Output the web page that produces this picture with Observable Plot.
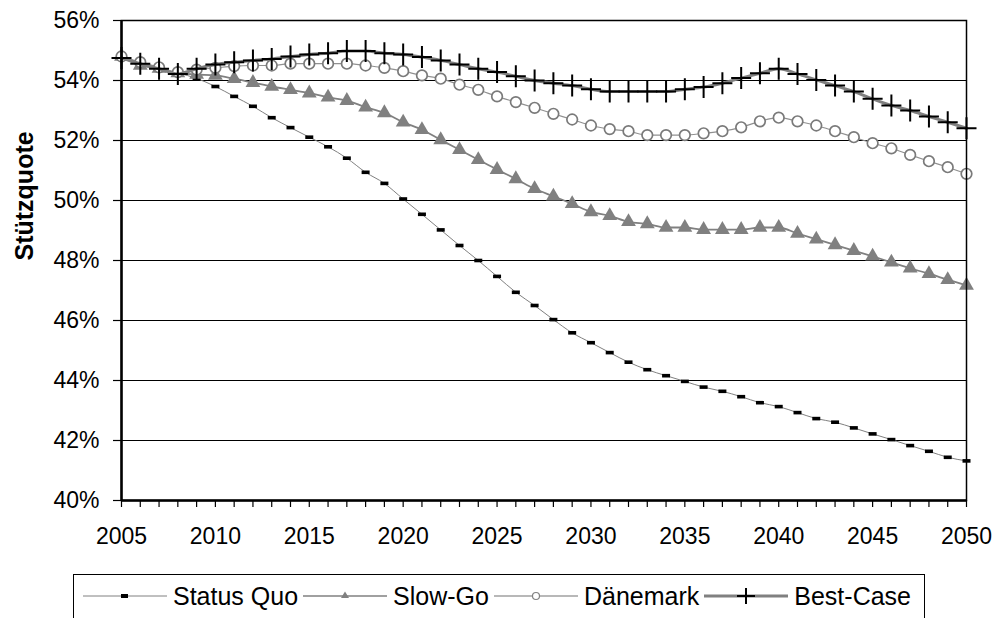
<!DOCTYPE html>
<html>
<head>
<meta charset="utf-8">
<script src="https://cdn.jsdelivr.net/npm/d3@7"></script>
<script src="https://cdn.jsdelivr.net/npm/@observablehq/plot@0.6"></script>
<style>
  body { margin: 0; background: white; font-family: "Liberation Sans", Arial, sans-serif; }
  #chart { position: relative; width: 1004px; height: 618px; overflow: hidden; }
  .legend {
    position: absolute; left: 73px; top: 574px; width: 852px; height: 60px;
    border: 1px solid black; box-sizing: border-box; display: flex; align-items: flex-start;
    padding-left: 8px; padding-top: 6px; font-size: 25px; color: black;
  }
  .legend .item { display: flex; align-items: center; margin-right: 4px; }
  .legend svg { margin-right: 5px; }
</style>
</head>
<body>
<div id="chart"></div>
<script>
const years = d3.range(2005, 2051);
const yearLabels = [2005, 2010, 2015, 2020, 2025, 2030, 2035, 2040, 2045, 2050];
const yTicks = [40, 42, 44, 46, 48, 50, 52, 54, 56];

const statusQuo = [54.75, 54.55, 54.4, 54.25, 54.07, 53.8, 53.47, 53.14, 52.76, 52.43,
  52.11, 51.79, 51.41, 50.94, 50.57, 50.05, 49.54, 49.02, 48.5, 48.0,
  47.47, 46.94, 46.5, 46.03, 45.59, 45.26, 44.93, 44.61, 44.36, 44.16,
  43.97, 43.78, 43.64, 43.46, 43.26, 43.13, 42.93, 42.73, 42.61, 42.42,
  42.22, 42.03, 41.83, 41.64, 41.44, 41.32];
const slowGo = [54.8, 54.5, 54.4, 54.25, 54.2, 54.17, 54.06, 53.93, 53.8, 53.69,
  53.58, 53.44, 53.33, 53.11, 52.92, 52.61, 52.36, 52.02, 51.69, 51.36,
  51.03, 50.72, 50.39, 50.14, 49.89, 49.62, 49.49, 49.29, 49.22, 49.1,
  49.1, 49.03, 49.03, 49.03, 49.1, 49.1, 48.9, 48.71, 48.52, 48.33,
  48.14, 47.94, 47.74, 47.56, 47.36, 47.17];
const daenemark = [54.8, 54.61, 54.44, 54.28, 54.36, 54.42, 54.48, 54.5, 54.5, 54.56,
  54.56, 54.56, 54.56, 54.5, 54.42, 54.31, 54.17, 54.06, 53.86, 53.69,
  53.47, 53.28, 53.09, 52.89, 52.7, 52.5, 52.38, 52.31, 52.18, 52.18,
  52.18, 52.24, 52.31, 52.44, 52.64, 52.76, 52.64, 52.5, 52.31, 52.11,
  51.91, 51.74, 51.52, 51.31, 51.11, 50.89];
const bestCase = [54.75, 54.56, 54.39, 54.22, 54.39, 54.53, 54.61, 54.67, 54.72, 54.8,
  54.87, 54.91, 54.98, 54.98, 54.91, 54.87, 54.78, 54.67, 54.53, 54.39,
  54.28, 54.14, 54.0, 53.91, 53.83, 53.71, 53.63, 53.63, 53.63, 53.63,
  53.71, 53.78, 53.91, 54.08, 54.24, 54.39, 54.22, 54.02, 53.83, 53.63,
  53.39, 53.17, 53.0, 52.8, 52.61, 52.41];

const toRows = (vals) => years.map((year, i) => ({year, value: vals[i]}));

// eigene Symbole: kurzer Strich und Plus aus Linien
const dash = {draw(ctx, size) { const r = Math.sqrt(size / Math.PI); ctx.rect(-r, -r * 0.45, 2 * r, r * 0.9); }};
const plus = {draw(ctx, size) {
  const r = Math.sqrt(size / Math.PI);
  ctx.moveTo(-r, 0); ctx.lineTo(r, 0);
  ctx.moveTo(0, -r * 1.1); ctx.lineTo(0, r * 1.1);
}};

let chart = Plot.plot({
  width: 1004,
  height: 560,
  marginTop: 20,
  marginBottom: 60,
  marginLeft: 121,
  marginRight: 38,
  style: {fontFamily: "Liberation Sans, Arial, sans-serif", fontSize: "23px", color: "black", background: "white"},
  x: {domain: [2005, 2050]},
  y: {domain: [40, 56]},
  marks: [
    Plot.ruleY(yTicks, {stroke: "black", strokeWidth: 1}),
    Plot.axisY({ticks: yTicks, tickFormat: d => d + "%", tickSize: 8, tickPadding: 14, label: null, strokeWidth: 1.2}),
    Plot.axisX({ticks: years, tickSize: 7, tickFormat: () => "", label: null, strokeWidth: 1.2}),
    Plot.axisX({ticks: yearLabels, tickSize: 0, tickPadding: 27, tickFormat: d => String(d), label: null}),
    Plot.text(["Stützquote"], {frameAnchor: "left", dx: -97, rotate: -90, fontWeight: "bold", fontSize: 25}),

    Plot.line(toRows(statusQuo), {x: "year", y: "value", stroke: "#808080", strokeWidth: 1, curve: "monotone-x"}),
    Plot.dot(toRows(statusQuo), {x: "year", y: "value", symbol: dash, r: 4, fill: "black", stroke: "none"}),

    Plot.line(toRows(slowGo), {x: "year", y: "value", stroke: "#808080", strokeWidth: 1.8, curve: "monotone-x"}),
    Plot.dot(toRows(slowGo), {x: "year", y: "value", symbol: "triangle", r: 5.5, fill: "#808080", stroke: "none"}),

    Plot.line(toRows(daenemark), {x: "year", y: "value", stroke: "#909090", strokeWidth: 1.2, curve: "monotone-x"}),
    Plot.dot(toRows(daenemark), {x: "year", y: "value", symbol: "circle", r: 5.3, fill: "white", stroke: "#7a7a7a", strokeWidth: 1.7}),

    Plot.line(toRows(bestCase), {x: "year", y: "value", stroke: "#808080", strokeWidth: 3, curve: "monotone-x"}),
    Plot.dot(toRows(bestCase), {x: "year", y: "value", symbol: plus, r: 10, fill: "none", stroke: "black", strokeWidth: 2}),

    Plot.frame({stroke: "black", strokeWidth: 1.5}),
    Plot.ruleX([2005], {stroke: "black", strokeWidth: 2.5}),
    Plot.ruleY([40], {stroke: "black", strokeWidth: 2.5})
  ]
});

d3.select("#chart").append(() => chart);

// Legende unter dem Diagramm
const legendItems = [
  {name: "Status Quo", line: "#808080", lw: 1, marker: "dash"},
  {name: "Slow-Go", line: "#808080", lw: 1.5, marker: "triangle"},
  {name: "Dänemark", line: "#a0a0a0", lw: 1.5, marker: "circle"},
  {name: "Best-Case", line: "#808080", lw: 3, marker: "plus"}
];

const legend = d3.select("#chart").append("div").attr("class", "legend");
legendItems.forEach(it => {
  const item = legend.append("div").attr("class", "item");
  const s = item.append("svg").attr("width", 86).attr("height", 30);
  s.append("line").attr("x1", 1).attr("x2", 85).attr("y1", 15).attr("y2", 15)
    .attr("stroke", it.line).attr("stroke-width", it.lw);
  if (it.marker === "dash") s.append("rect").attr("x", 39).attr("y", 13).attr("width", 7).attr("height", 4).attr("fill", "black");
  if (it.marker === "triangle") s.append("path").attr("d", "M43,10.5L47,17L39,17Z").attr("fill", "#808080");
  if (it.marker === "circle") s.append("circle").attr("cx", 43).attr("cy", 15).attr("r", 3.5).attr("fill", "white").attr("stroke", "#808080").attr("stroke-width", 1.2);
  if (it.marker === "plus") s.append("path").attr("d", "M34,15H52M43,7V23").attr("stroke", "black").attr("stroke-width", 2);
  item.append("span").text(it.name);
});
</script>
</body>
</html>
